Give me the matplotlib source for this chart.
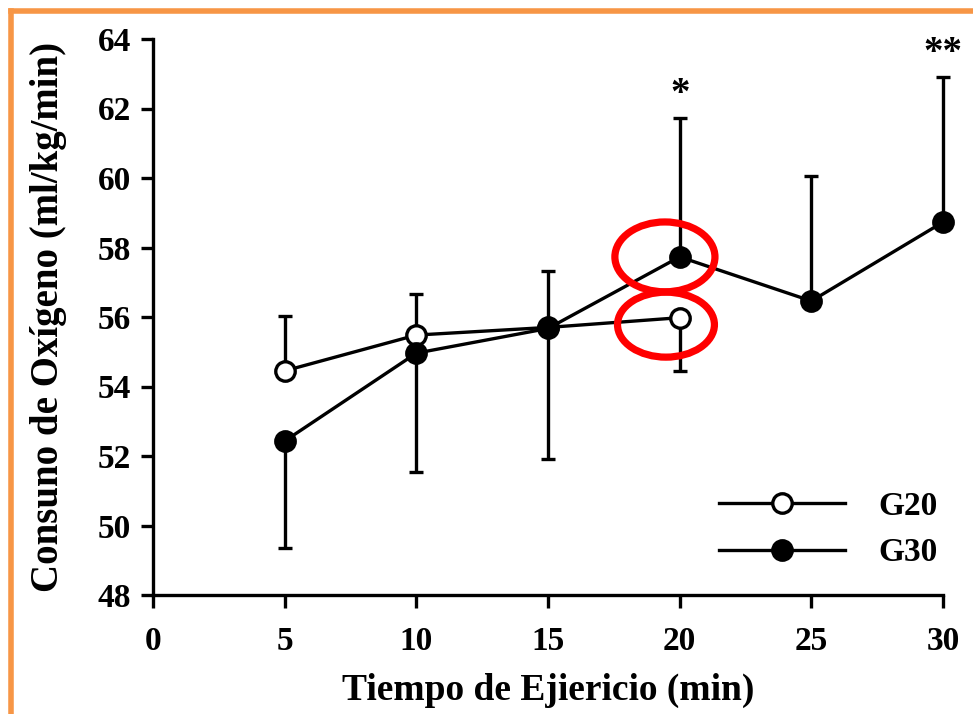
import matplotlib
matplotlib.use("Agg")
import matplotlib.pyplot as plt
from matplotlib.patches import Ellipse
from matplotlib.lines import Line2D

# Oxygen uptake (ml/kg/min) over exercise time, two groups
time_g20 = [5, 10, 15, 20]
vo2_g20 = [54.45, 55.48, 55.70, 55.98]
g20_err_low = [0, 0, 0, 1.52]
g20_err_high = [1.57, 1.18, 1.62, 0]

time_g30 = [5, 10, 15, 20, 25, 30]
vo2_g30 = [52.43, 54.96, 55.67, 57.73, 56.46, 58.73]
g30_err_low = [3.08, 3.41, 3.77, 0, 0, 0]
g30_err_high = [0, 0, 0, 3.99, 3.60, 4.17]

x_ticks = [0, 5, 10, 15, 20, 25, 30]
y_ticks = [48, 50, 52, 54, 56, 58, 60, 62, 64]
series_labels = ["G20", "G30"]
signif_marks = [(20, "*"), (30, "**")]

plt.rcParams["font.family"] = ["Liberation Serif", "DejaVu Serif"]
plt.rcParams["font.weight"] = "bold"

fig = plt.figure(figsize=(9.73, 7.14), dpi=100)
ax = fig.add_axes([153 / 973, 119 / 714, 790 / 973, 556 / 714])

lw = 2.4
ms = 14
style = dict(color="black", lw=lw, marker="o", ms=ms, mec="black", mew=lw)
ax.errorbar(time_g20, vo2_g20, yerr=[g20_err_low, g20_err_high],
            elinewidth=lw, capsize=5, capthick=lw, mfc="white",
            zorder=3, clip_on=False, **style)
ax.errorbar(time_g30, vo2_g30, yerr=[g30_err_low, g30_err_high],
            elinewidth=lw, capsize=5, capthick=lw, mfc="black",
            zorder=4, clip_on=False, **style)

# significance markers above the upper error bars
for xs, mark in signif_marks:
    i = time_g30.index(xs)
    top = vo2_g30[i] + g30_err_high[i]
    ax.annotate(mark, (xs, top), xytext=(0, 4), textcoords="offset points",
                ha="center", va="bottom", fontsize=28, fontweight="bold")

# red highlight rings around the 20-min points
i20 = time_g30.index(20)
ax.add_patch(Ellipse((20 - 0.56, vo2_g30[i20]), 3.80, 2.01, fill=False,
                     ec="#ff0000", lw=5.2, zorder=5))
j20 = time_g20.index(20)
ax.add_patch(Ellipse((20 - 0.52, vo2_g20[j20] - 0.2), 3.68, 1.87, fill=False,
                     ec="#ff0000", lw=5.2, zorder=5))

ax.set_xlim(0, 30)
ax.set_ylim(48, 64)
ax.set_xticks(x_ticks)
ax.set_yticks(y_ticks)
ax.spines["top"].set_visible(False)
ax.spines["right"].set_visible(False)
for s in ("left", "bottom"):
    ax.spines[s].set_linewidth(2.4)
ax.tick_params(direction="out", length=9, width=2.4, labelsize=24)
ax.tick_params(axis="x", pad=13)
ax.tick_params(axis="y", pad=7)
for lab in ax.get_xticklabels() + ax.get_yticklabels():
    lab.set_fontweight("bold")

ax.set_xlabel("Tiempo de Ejiericio (min)", fontsize=27, fontweight="bold", labelpad=12)
ax.set_ylabel("Consuno de Oxígeno (ml/kg/min)", fontsize=28, fontweight="bold", labelpad=22)

handles = [Line2D([], [], mfc="white", **style), Line2D([], [], mfc="black", **style)]
leg = ax.legend(handles, series_labels, loc="lower right",
                bbox_to_anchor=(1.0 + 15 / 790, 0.03 - 10 / 556),
                frameon=False, fontsize=24, handlelength=3.8, handletextpad=1.0,
                labelspacing=0.46, numpoints=1, borderaxespad=0.2)

# orange frame along the top and left edges
frame_color = "#f79646"
fig.add_artist(Line2D([10.5 / 973, 10.5 / 973], [0, 1 - 10.5 / 714], transform=fig.transFigure,
                      color=frame_color, lw=4, solid_capstyle="projecting"))
fig.add_artist(Line2D([10.5 / 973, 1], [1 - 10.5 / 714, 1 - 10.5 / 714], transform=fig.transFigure,
                      color=frame_color, lw=4, solid_capstyle="projecting"))

fig.savefig("out.png", dpi=100, facecolor="white")
